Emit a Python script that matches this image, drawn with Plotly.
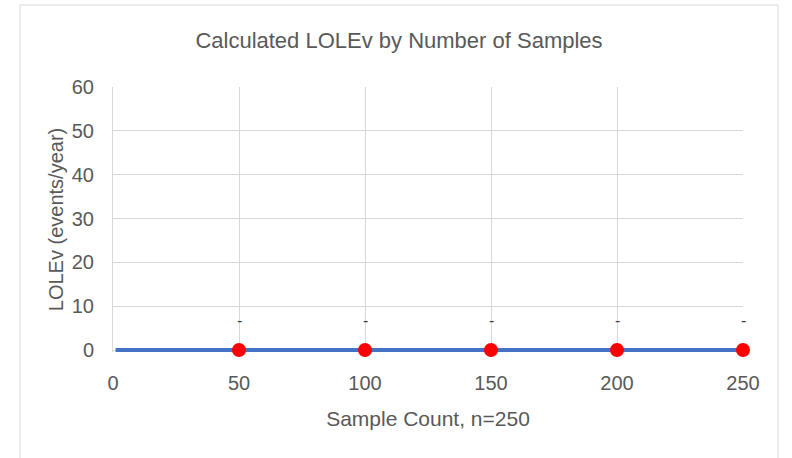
import plotly.graph_objects as go

# Data
line_x = list(range(1, 251))
line_y = [0] * 250
sample_counts = [50, 100, 150, 200, 250]
lolev_values = [0, 0, 0, 0, 0]
point_labels = ["-", "-", "-", "-", "-"]
x_ticks = [0, 50, 100, 150, 200, 250]
y_ticks = [0, 10, 20, 30, 40, 50, 60]

W, H = 792, 458
L, R, T, B = 113, 49, 87, 106
pw, ph = W - L - R, H - T - B
ZERO_PX = 350          # pixel row of y = 0
PX_PER_UNIT = 263 / 60  # vertical scale
y_min = -(H - B - ZERO_PX) / PX_PER_UNIT

def px(x):
    return (x - L) / pw

def py(y):
    return (H - B - y) / ph

fig = go.Figure()
fig.add_trace(go.Scatter(x=line_x, y=line_y, mode="lines",
                         line=dict(color="#4472C4", width=4),
                         cliponaxis=False, hoverinfo="skip", showlegend=False))
fig.add_trace(go.Scatter(x=sample_counts, y=lolev_values, mode="markers",
                         marker=dict(color="#FF0000", size=14),
                         cliponaxis=False, showlegend=False))

for xv, yv, t in zip(sample_counts, lolev_values, point_labels):
    fig.add_annotation(x=xv, y=yv, text=t, showarrow=False, yshift=30,
                       font=dict(family="Liberation Sans", size=16, color="#404040"))

fig.add_shape(type="rect", xref="paper", yref="paper",
              x0=px(20), x1=px(778), y0=py(480), y1=py(5),
              line=dict(color="#D9D9D9", width=1), layer="below")

txt = "#595959"
fig.update_layout(
    width=W, height=H,
    margin=dict(l=L, r=R, t=T, b=B),
    paper_bgcolor="white", plot_bgcolor="white",
    title=dict(text="Calculated LOLEv by Number of Samples",
               xref="container", x=399 / W, xanchor="center",
               yref="container", y=1 - 40 / H, yanchor="middle",
               font=dict(family="Liberation Sans", size=22, color=txt)),
    xaxis=dict(range=[0, 250], tickvals=x_ticks, showgrid=True, gridcolor="#D9D9D9",
               gridwidth=1, zeroline=False, showline=False,
               layer="below traces",
               tickfont=dict(family="Liberation Sans", size=20, color=txt),
               ticklabelstandoff=17,
               title=dict(text="Sample Count, n=250",
                          font=dict(family="Liberation Sans", size=21, color=txt),
                          standoff=18)),
    yaxis=dict(range=[y_min, 60], tickvals=y_ticks, showgrid=True, gridcolor="#D9D9D9",
               gridwidth=1, zeroline=True, zerolinecolor="#D9D9D9", zerolinewidth=1,
               showline=True, linecolor="#D9D9D9", linewidth=1, layer="below traces",
               tickfont=dict(family="Liberation Sans", size=20, color=txt),
               ticklabelstandoff=14,
               title=dict(text="LOLEv (events/year)",
                          font=dict(family="Liberation Sans", size=20, color=txt),
                          standoff=2)),
)
fig.write_html("out.html")
